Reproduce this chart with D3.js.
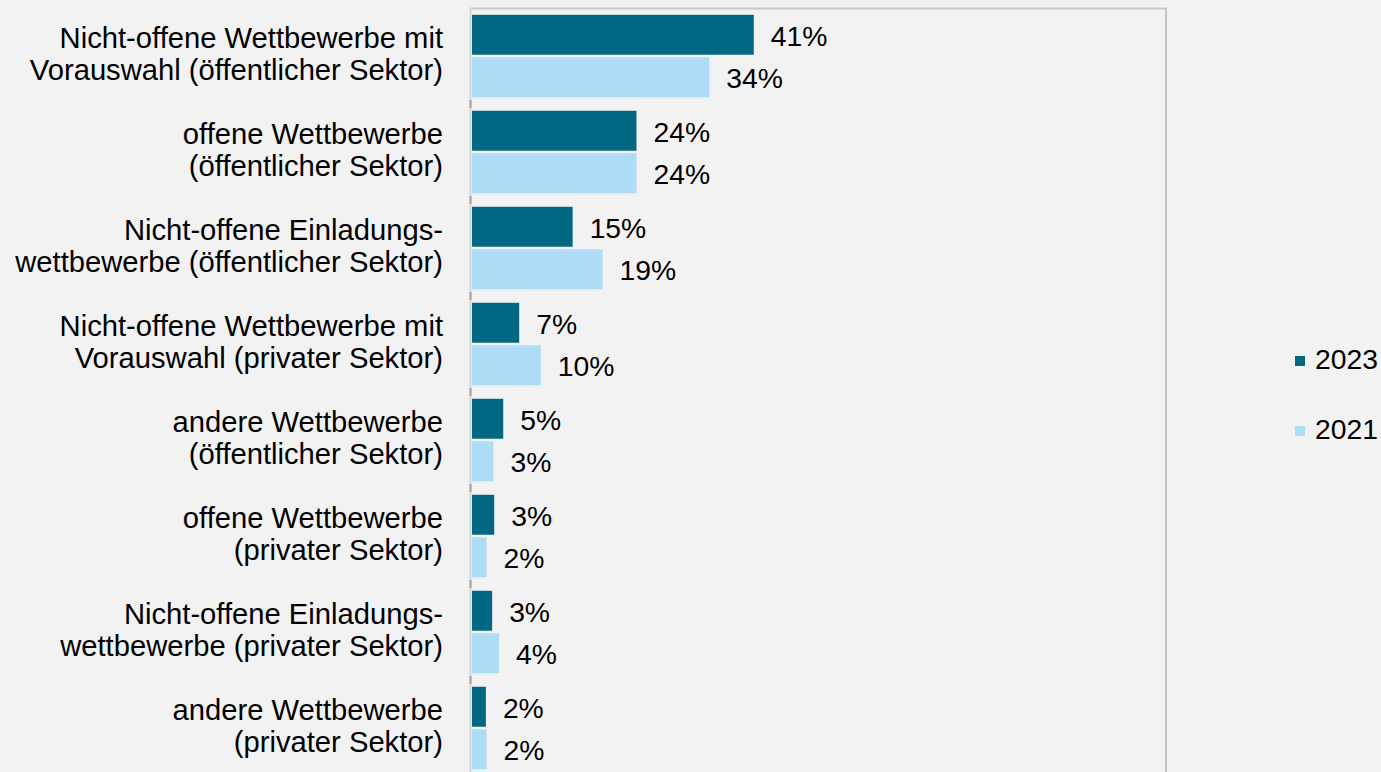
<!DOCTYPE html>
<html>
<head>
<meta charset="utf-8">
<script src="https://d3js.org/d3.v7.min.js"></script>
<style>
  body { margin: 0; background: #f2f2f2; }
  text { font-family: "Liberation Sans", Arial, sans-serif; fill: #000; }
</style>
</head>
<body>
<svg width="1381" height="772"></svg>
<script>
// categories, each split into its two label lines
var categories = [
  ["Nicht-offene Wettbewerbe mit", "Vorauswahl (öffentlicher Sektor)"],
  ["offene Wettbewerbe", "(öffentlicher Sektor)"],
  ["Nicht-offene Einladungs-", "wettbewerbe (öffentlicher Sektor)"],
  ["Nicht-offene Wettbewerbe mit", "Vorauswahl (privater Sektor)"],
  ["andere Wettbewerbe", "(öffentlicher Sektor)"],
  ["offene Wettbewerbe", "(privater Sektor)"],
  ["Nicht-offene Einladungs-", "wettbewerbe (privater Sektor)"],
  ["andere Wettbewerbe", "(privater Sektor)"]
];
var series = ["2023", "2021"];
var values2023 = [40.6, 23.7, 14.5, 6.8, 4.5, 3.2, 2.9, 2.0];
var values2021 = [34.2, 23.7, 18.8, 9.9, 3.1, 2.1, 3.9, 2.1];
var colors = ["#006681", "#aedbf5"];

var svg = d3.select("svg");
var plotLeft = 472, plotRight = 1166, plotTop = 8;

var x = d3.scaleLinear().domain([0, 100]).range([plotLeft, plotRight]);
var y0 = d3.scaleBand().domain(d3.range(categories.length)).range([plotTop, plotTop + 96 * categories.length]);
var y1 = d3.scaleBand().domain(series).range([0, y0.bandwidth()]).paddingInner(0.06).paddingOuter(0.16);
var color = d3.scaleOrdinal().domain(series).range(colors);

var rows = categories.map(function(c, i) {
  return {i: i, lines: c, vals: [{s: "2023", v: values2023[i]}, {s: "2021", v: values2021[i]}]};
});

// plot frame
svg.append("line").attr("x1", 470).attr("x2", 1167).attr("y1", 8.5).attr("y2", 8.5)
  .attr("stroke", "#c8c8c8").attr("stroke-width", 2);
svg.append("line").attr("x1", 1166).attr("x2", 1166).attr("y1", 8).attr("y2", 772)
  .attr("stroke", "#c4c4c4").attr("stroke-width", 2);

var g = svg.append("g").selectAll("g").data(rows).enter().append("g")
  .attr("transform", function(d) { return "translate(0," + y0(d.i) + ")"; });

g.selectAll("rect").data(function(d) { return d.vals; }).enter().append("rect")
  .attr("x", x(0))
  .attr("y", function(d) { return y1(d.s); })
  .attr("width", function(d) { return x(d.v) - x(0); })
  .attr("height", y1.bandwidth())
  .attr("fill", function(d) { return color(d.s); });

g.selectAll("text.val").data(function(d) { return d.vals; }).enter().append("text")
  .attr("class", "val")
  .attr("x", function(d) { return x(d.v) + 17; })
  .attr("y", function(d) { return y1(d.s) + y1.bandwidth() / 2 + 11; })
  .style("font-size", "28.3px")
  .text(function(d) { return Math.round(d.v) + "%"; });

// category labels
g.append("text")
  .attr("text-anchor", "end")
  .style("font-size", "29.2px")
  .selectAll("tspan").data(function(d) { return d.lines; }).enter().append("tspan")
  .attr("x", 443)
  .attr("y", function(d, j) { return y0.bandwidth() / 2 - 8 + j * 31.5; })
  .text(function(d) { return d; });

// left axis with boundary ticks
svg.append("line").attr("x1", 470.5).attr("x2", 470.5).attr("y1", 8).attr("y2", 772)
  .attr("stroke", "#d6d6d6").attr("stroke-width", 2);
svg.append("g").selectAll("rect").data(d3.range(1, categories.length)).enter().append("rect")
  .attr("x", 469).attr("width", 3)
  .attr("y", function(d) { return plotTop + d * y0.step() - 4; })
  .attr("height", 8)
  .attr("fill", "#b8b8b8");

// legend
var legend = svg.append("g").selectAll("g").data(series).enter().append("g")
  .attr("transform", function(d, i) { return "translate(1295," + (356 + i * 70) + ")"; });
legend.append("rect").attr("width", 10).attr("height", 10)
  .attr("fill", function(d) { return color(d); });
legend.append("text").attr("x", 20).attr("y", 12.5)
  .style("font-size", "28.3px")
  .text(function(d) { return d; });
</script>
</body>
</html>
